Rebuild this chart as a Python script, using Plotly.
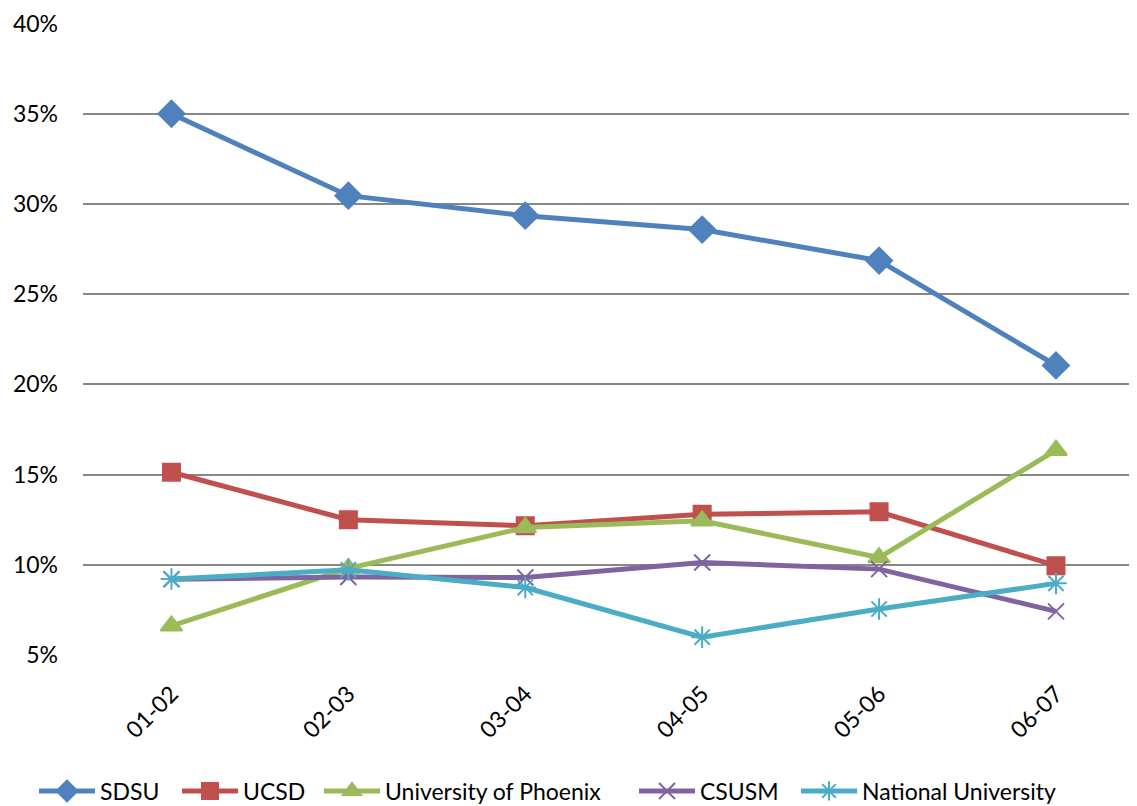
import plotly.graph_objects as go

years = ["01-02", "02-03", "03-04", "04-05", "05-06", "06-07"]
sdsu = [35.0, 30.46, 29.35, 28.58, 26.86, 21.05]
ucsd = [15.13, 12.5, 12.16, 12.8, 12.94, 9.95]
phoenix = [6.62, 9.8, 12.07, 12.44, 10.4, 16.35]
csusm = [9.2, 9.32, 9.3, 10.13, 9.76, 7.42]
national = [9.21, 9.72, 8.74, 5.99, 7.55, 8.97]

names = ["SDSU", "UCSD", "University of Phoenix", "CSUSM", "National University"]
values = [sdsu, ucsd, phoenix, csusm, national]
colors = ["#4F81BD", "#C0504D", "#9BBB59", "#8064A2", "#4BACC6"]
symbols = ["diamond", "square", "triangle-up", "x-thin", "asterisk"]
sizes = [20, 17, 19, 16, 18]

# page has an 8px body margin; figure sized to fit the window
W, H = 1129, 798
L, T, B = 75, 15, 151
PW = W - L
PH = H - T - B
legend_left_px = [34, 177, 319, 634, 796]  # page px where each legend item starts

fig = go.Figure()
layout_legends = {}
for i, (name, vals, color, sym, size) in enumerate(zip(names, values, colors, symbols, sizes)):
    lname = "legend" if i == 0 else f"legend{i+1}"
    fig.add_trace(go.Scatter(
        x=years, y=[v / 100 for v in vals], name=name, mode="lines+markers",
        line=dict(color=color, width=5),
        marker=dict(symbol=sym, size=size, color=color,
                    line=dict(color=color, width=2)),
        legend=lname,
    ))
    layout_legends[lname] = dict(
        orientation="h", xref="paper", yref="paper",
        x=(legend_left_px[i] - 8 - L) / PW, xanchor="left",
        y=-(783 - (T + PH)) / PH, yanchor="middle",
        font=dict(size=23), itemwidth=56, bgcolor="rgba(0,0,0,0)",
    )

fig.update_layout(
    width=W, height=H,
    margin=dict(l=L, r=0, t=T, b=B, autoexpand=False),
    plot_bgcolor="white", paper_bgcolor="white",
    font=dict(family="Lato, Open Sans, sans-serif", size=23, color="black"),
    showlegend=True,
    **layout_legends,
)
fig.update_xaxes(type="category", range=[-0.5, 5.458], tickangle=-45,
                 showgrid=False, showline=False, ticks="",
                 ticklabelstandoff=20, automargin=False,
                 tickfont=dict(size=23))
fig.update_yaxes(range=[0.05, 0.4003], dtick=0.05, tickformat=".0%",
                 showgrid=True, gridcolor="#878787", gridwidth=1.5,
                 zeroline=False, showline=False, ticks="",
                 ticklabelstandoff=24, automargin=False,
                 tickfont=dict(size=23))

fig.write_html("out.html")
